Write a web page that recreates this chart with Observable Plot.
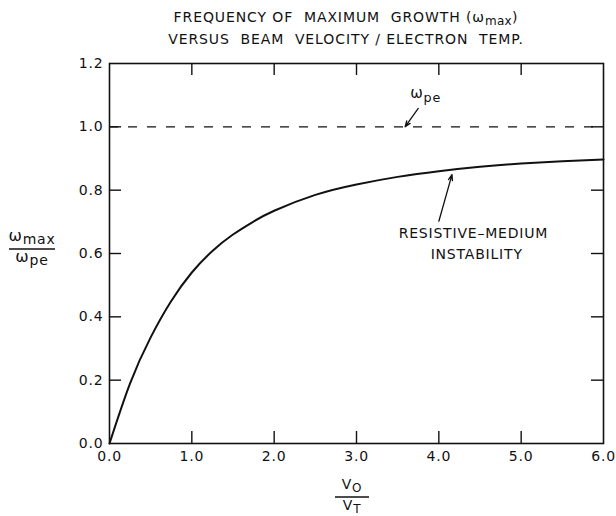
<!DOCTYPE html>
<html>
<head>
<meta charset="utf-8">
<script src="https://cdn.jsdelivr.net/npm/d3@7"></script>
<script src="https://cdn.jsdelivr.net/npm/@observablehq/plot@0.6"></script>
<style>
  html, body { margin: 0; padding: 0; background: #fff; }
  #wrap { width: 616px; height: 516px; position: relative; overflow: hidden; }
  #title {
    width: 616px; height: 52px; box-sizing: border-box;
    padding: 6px 0 0 76px; text-align: center;
    font-family: "DejaVu Sans", sans-serif; font-size: 14px; line-height: 22px;
    letter-spacing: 0.9px; white-space: pre; color: #111;
  }
  #title div { height: 22px; }
  #title sub { font-size: 12px; vertical-align: -3px; letter-spacing: 0.3px; line-height: 0; }
  svg text { letter-spacing: 0.8px; }
</style>
</head>
<body>
<div id="wrap">
  <div id="title"><div>FREQUENCY OF  MAXIMUM  GROWTH (ω<sub>max</sub>)</div><div>VERSUS  BEAM  VELOCITY / ELECTRON  TEMP.</div></div>
  <div id="chart"></div>
</div>
<script>
// ---- data ----
const velocityRatio = [0, 0.25, 0.5, 0.75, 1.0, 1.25, 1.5, 1.75, 2.0, 2.5, 3.0, 3.5, 4.0, 4.5, 5.0, 5.5, 6.0];
const freqRatio     = [0, 0.19, 0.335, 0.45, 0.54, 0.608, 0.66, 0.701, 0.735, 0.785, 0.818, 0.842, 0.86, 0.874, 0.884, 0.891, 0.897];
const plasmaLevel = [1.0];
const xTickValues = [0, 1, 2, 3, 4, 5, 6];
const yTickValues = [0, 0.2, 0.4, 0.6, 0.8, 1.0, 1.2];
const xInnerTicks = [1, 2, 3, 4, 5];
const yInnerTicks = [0.2, 0.4, 0.6, 0.8, 1.0];
const annotations = [
  {v: 3.84, w: 1.105, label: "ω_{pe}", size: 15},
  {v: 4.42, w: 0.663, label: "RESISTIVE–MEDIUM", size: 14},
  {v: 4.46, w: 0.597, label: "INSTABILITY", size: 14}
];
const arrows = [
  {v1: 3.75, w1: 1.058, v2: 3.59, w2: 1.0},
  {v1: 4.00, w1: 0.702, v2: 4.16, w2: 0.849}
];

const curve = velocityRatio.map((v, i) => ({v, w: freqRatio[i]}));

const W = 616, H = 464;
const mL = 109, mR = 13, mT = 11, mB = 73;
const innerW = W - mL - mR, innerH = H - mT - mB;
const tickLen = 12;
const font = "DejaVu Sans, sans-serif";

const plot = Plot.plot({
  width: W, height: H,
  marginLeft: mL, marginRight: mR, marginTop: mT, marginBottom: mB,
  style: {fontFamily: font, fontSize: "14px", color: "#111", background: "#fff"},
  x: {domain: [0, 6]},
  y: {domain: [0, 1.2]},
  marks: [
    Plot.axisX({ticks: xTickValues, tickSize: 0, tickPadding: 8, tickFormat: d => d.toFixed(1), label: null, fontSize: 14}),
    Plot.axisY({ticks: yTickValues, tickSize: 0, tickPadding: 6, tickFormat: d => d.toFixed(1), label: null, fontSize: 14}),
    Plot.tickX(xInnerTicks, {x: d => d, insetTop: innerH - tickLen, stroke: "#111", strokeWidth: 1.4}),
    Plot.tickX(xInnerTicks, {x: d => d, insetBottom: innerH - tickLen, stroke: "#111", strokeWidth: 1.4}),
    Plot.tickY(yInnerTicks, {y: d => d, insetRight: innerW - tickLen, stroke: "#111", strokeWidth: 1.4}),
    Plot.tickY(yInnerTicks, {y: d => d, insetLeft: innerW - tickLen, stroke: "#111", strokeWidth: 1.4}),
    Plot.ruleY(plasmaLevel, {y: d => d, stroke: "#111", strokeWidth: 1.3, strokeDasharray: "9,10"}),
    Plot.line(curve, {x: "v", y: "w", curve: "natural", stroke: "#111", strokeWidth: 2}),
    Plot.arrow(arrows, {x1: "v1", y1: "w1", x2: "v2", y2: "w2", stroke: "#111", strokeWidth: 1.3, headLength: 7, headAngle: 40}),
    Plot.text(annotations, {x: "v", y: "w", text: "label", fontSize: d => d.size, fill: "#111"}),
    Plot.frame({stroke: "#111", strokeWidth: 1.6})
  ]
});

// render subscripts written as _{...}
d3.select(plot).selectAll("text").each(function() {
  const t = this.textContent;
  if (!t.includes("_{")) return;
  const parts = t.split(/_\{([^}]*)\}/);
  const sel = d3.select(this);
  sel.text(null);
  parts.forEach((p, i) => {
    if (!p) return;
    if (i % 2 === 1) sel.append("tspan").attr("dy", "0.3em").attr("font-size", "0.85em").text(p);
    else sel.append("tspan").attr("dy", i === 0 ? null : "-0.3em").text(p);
  });
});

// fraction-style axis labels
const svg = d3.select(plot);
function fraction(cx, cy, top, bottom, barHalf, size) {
  const g = svg.append("g").attr("font-family", font).attr("font-size", size).attr("fill", "#111").attr("text-anchor", "middle");
  const addRich = (y, parts) => {
    const t = g.append("text").attr("x", cx).attr("y", y).attr("dominant-baseline", "middle");
    parts.forEach(([s, sub]) => {
      if (sub) t.append("tspan").attr("font-size", size - 2).attr("dy", "0.25em").text(s);
      else t.append("tspan").attr("dy", t.selectAll("tspan").size() ? "-0.25em" : null).text(s);
    });
  };
  addRich(cy - 9, top);
  g.append("line").attr("x1", cx - barHalf).attr("x2", cx + barHalf).attr("y1", cy).attr("y2", cy).attr("stroke", "#111").attr("stroke-width", 1.4);
  addRich(cy + 12, bottom);
}
fraction(32, 197, [["ω", false], ["max", true]], [["ω", false], ["pe", true]], 23, 16);
fraction(352, 445, [["V", false], ["O", true]], [["V", false], ["T", true]], 17, 14);

document.getElementById("chart").appendChild(plot);
</script>
</body>
</html>
